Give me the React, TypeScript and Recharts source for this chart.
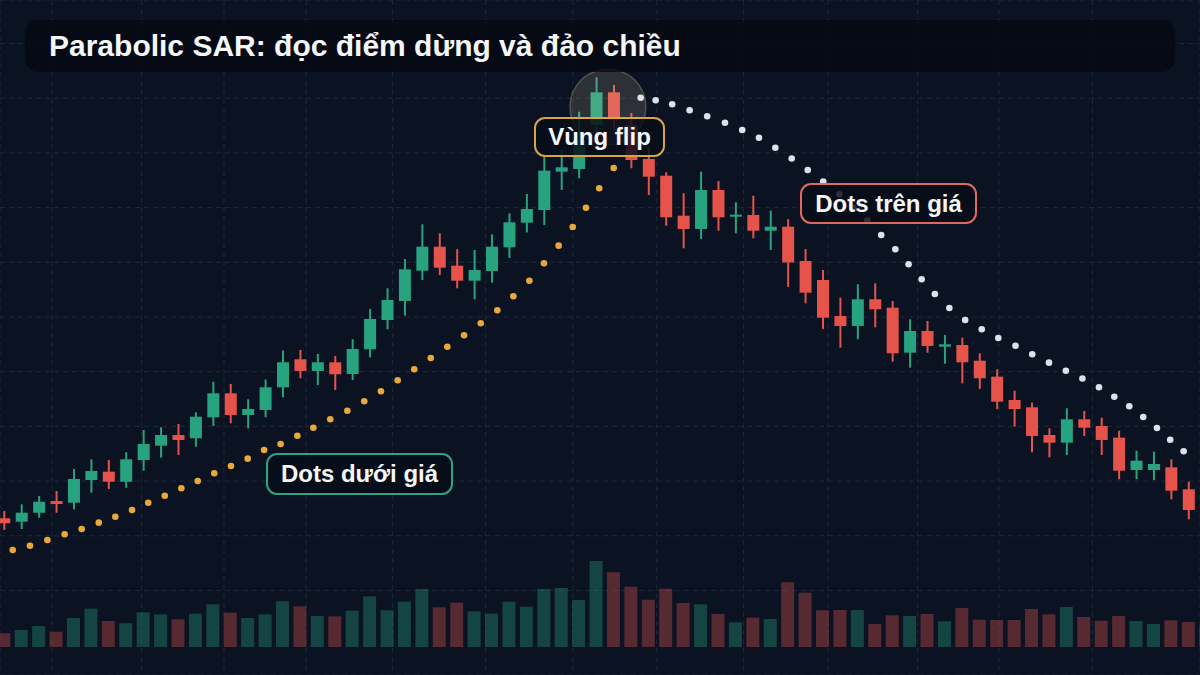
import {
  ComposedChart,
  Bar,
  Scatter,
  XAxis,
  YAxis,
  CartesianGrid,
  ReferenceDot,
  Cell,
} from "recharts";

// candles (price units)
const opens = [
  33.2, 32.58, 34.22, 36.36, 36.05, 40.2, 41.72, 39.89, 43.86, 46.47,
  48.43, 47.83, 51.67, 56.05, 52.09, 53.0, 57.15, 62.27, 60.13, 61.72,
  59.58, 64.1, 69.45, 72.93, 78.47, 82.85, 79.38, 76.64, 78.41, 82.74,
  87.24, 89.56, 96.57, 97.06, 105.1, 111.08, 105.1, 98.89, 95.83, 88.52,
  86.09, 93.22, 88.34, 88.65, 85.78, 86.51, 80.24, 76.77, 70.18, 68.36,
  73.24, 71.7, 63.48, 67.44, 64.57, 64.88, 62.01, 59.09, 54.83, 53.49,
  48.43, 47.02, 51.3, 50.07, 47.94, 42.03, 42.03, 42.52, 38.5, 34.9,
];
const highs = [
  34.53, 35.76, 37.28, 38.19, 42.21, 43.99, 43.86, 45.27, 49.34, 49.84,
  50.44, 52.58, 58.17, 57.75, 54.96, 58.58, 63.88, 63.97, 63.24, 62.87,
  65.93, 71.46, 75.25, 80.61, 86.95, 85.3, 82.38, 82.25, 85.12, 88.96,
  92.49, 99.25, 100.53, 107.53, 113.82, 112.42, 107.3, 101.03, 96.46, 92.62,
  96.57, 94.86, 90.97, 92.18, 89.44, 87.88, 82.43, 78.59, 73.53, 75.98,
  76.16, 72.93, 69.58, 69.27, 66.71, 66.22, 63.37, 60.44, 56.53, 54.33,
  49.65, 53.31, 52.82, 51.59, 49.21, 45.56, 45.38, 43.99, 39.89, 36.0,
];
const lows = [
  31.06, 31.24, 33.31, 34.22, 34.85, 37.88, 38.56, 38.79, 41.9, 44.28,
  44.77, 46.29, 50.07, 50.57, 49.65, 51.67, 55.32, 58.8, 57.57, 56.66,
  58.48, 62.63, 67.75, 70.24, 76.77, 77.68, 75.25, 73.24, 76.27, 80.79,
  85.45, 86.82, 93.22, 95.36, 103.27, 104.19, 97.19, 92.31, 86.69, 82.56,
  84.26, 85.78, 85.3, 84.39, 82.25, 75.49, 72.51, 67.81, 64.39, 65.93,
  68.12, 61.83, 60.73, 63.48, 61.46, 57.88, 56.84, 53.13, 49.95, 45.27,
  44.35, 44.77, 48.25, 44.77, 40.33, 40.33, 40.2, 36.67, 33.02, 31.43,
];
const closes = [
  32.29, 34.22, 36.23, 35.81, 40.38, 41.85, 39.89, 43.99, 46.78, 48.43,
  47.52, 51.77, 56.05, 52.09, 53.18, 57.15, 61.72, 60.13, 61.72, 59.53,
  64.15, 69.64, 73.11, 78.72, 82.85, 79.01, 76.64, 78.59, 82.85, 87.31,
  89.75, 96.75, 97.37, 102.36, 111.08, 106.02, 98.7, 95.65, 88.23, 86.09,
  93.22, 88.23, 88.7, 85.78, 86.51, 79.97, 74.44, 69.87, 68.36, 73.24,
  71.41, 63.37, 67.44, 64.7, 65.01, 61.72, 58.8, 54.52, 53.18, 48.25,
  47.02, 51.3, 49.76, 47.52, 41.9, 43.73, 43.13, 38.25, 34.72, 32.89,
];
const volumes = [
  137, 170, 210, 153, 290, 383, 260, 237, 347, 327,
  277, 333, 427, 343, 290, 327, 457, 407, 310, 307,
  363, 507, 367, 453, 580, 397, 443, 357, 333, 453,
  403, 580, 590, 470, 860, 747, 603, 473, 583, 440,
  427, 330, 247, 293, 280, 647, 543, 367, 370, 370,
  230, 317, 310, 330, 257, 390, 273, 270, 270, 380,
  327, 400, 300, 263, 310, 260, 230, 267, 250, 217,
];

// SAR below price (uptrend)
const sarBullT = [
  0.5, 1.49, 2.49, 3.48, 4.46, 5.44, 6.39, 7.35, 8.28, 9.23,
  10.18, 11.12, 12.07, 13.03, 13.99, 14.93, 15.88, 16.84, 17.76, 18.73,
  19.71, 20.68, 21.64, 22.6, 23.55, 24.5, 25.45, 26.41, 27.37, 28.32,
  29.24, 30.16, 31.0, 31.84, 32.65, 33.41, 34.17, 35.0,
];
const sarBullP = [
  27.4, 28.19, 29.23, 30.27, 31.24, 32.4, 33.49, 34.72, 36.05, 37.33,
  38.68, 40.02, 41.43, 42.76, 44.1, 45.69, 46.78, 48.3, 49.76, 51.3,
  52.87, 54.59, 56.42, 58.43, 60.44, 62.51, 64.57, 66.66, 68.85, 71.23,
  73.79, 76.64, 79.82, 83.04, 86.46, 89.98, 93.53, 97.24,
];
// SAR above price (downtrend)
const sarBearT = [
  36.55, 37.41, 38.36, 39.36, 40.37, 41.39, 42.38, 43.34, 44.28, 45.22,
  46.14, 47.03, 47.95, 48.75, 49.56, 50.36, 51.17, 51.93, 52.68, 53.44,
  54.27, 55.18, 56.13, 57.08, 58.07, 59.03, 59.99, 60.96, 61.91, 62.86,
  63.74, 64.6, 65.4, 66.19, 66.95, 67.72,
];
const sarBearP = [
  110.09, 109.62, 108.89, 107.79, 106.69, 105.52, 104.19, 102.78, 100.95, 98.98,
  96.88, 94.74, 92.43, 90.02, 87.61, 84.99, 82.38, 79.64, 76.89, 74.21,
  71.65, 69.45, 67.75, 66.16, 64.74, 63.2, 61.65, 60.18, 58.76, 57.15,
  55.43, 53.68, 51.72, 49.71, 47.57, 45.45,
];

const gridTimes = [2.75, 7.9, 12.63, 17.34, 22.31, 27.64, 32.65, 37.47, 42.45, 47.3, 52.44, 57.12, 62.49];
const gridPrices = [20, 30, 40, 50, 60, 70, 80, 90, 100, 110, 120];

const flipZone = { t: 34.67, p: 108.4 };

const GREEN = "#27a37f";
const RED = "#e5534b";
const BG = "#0b1322";
const FONT = "'Liberation Sans', Arial, sans-serif";
const T_DOMAIN = [-0.23, 68.66];

const candles = opens.map((o, i) => ({
  t: i,
  o,
  h: highs[i],
  l: lows[i],
  c: closes[i],
  vol: volumes[i],
}));
const bullDots = sarBullT.map((t, i) => ({ t, p: sarBullP[i] }));
const bearDots = sarBearT.map((t, i) => ({ t, p: sarBearP[i] }));

function Candle(props: any) {
  const { x, y, width, height, payload } = props;
  const o = Number(payload?.o);
  const c = Number(payload?.c);
  const h = Number(payload?.h);
  const l = Number(payload?.l);
  const color = c >= o ? GREEN : RED;
  const w = width > 0 ? width : 12;
  const left = width > 0 ? x : x - 6;
  // pixel span of the wick, whichever way round the bar comes
  const yHi = Math.min(y, y + height);
  const yLo = Math.max(y, y + height);
  const span = h - l || 1;
  const py = (v: number) => yHi + ((h - v) / span) * (yLo - yHi);
  const top = py(Math.max(o, c));
  const bot = py(Math.min(o, c));
  const cx = left + w / 2;
  return (
    <g>
      <line x1={cx} x2={cx} y1={yHi} y2={yLo} stroke={color} strokeWidth={2} />
      <rect x={left} y={top} width={w} height={Math.max(bot - top, 2)} fill={color} />
    </g>
  );
}

const dot = (fill: string) => (props: any) =>
  <circle cx={props.cx} cy={props.cy} r={3.3} fill={fill} />;

function Tag({ text, left, top, width, height, border }: any) {
  return (
    <div
      style={{
        position: "absolute",
        left,
        top,
        width,
        height,
        boxSizing: "border-box",
        border: `2px solid ${border}`,
        borderRadius: 11,
        background: "rgba(8, 13, 24, 0.84)",
        color: "#f4f6f8",
        fontFamily: FONT,
        fontWeight: 700,
        fontSize: 24,
        display: "flex",
        alignItems: "center",
        justifyContent: "center",
        whiteSpace: "nowrap",
      }}
    >
      {text}
    </div>
  );
}

export default function App() {
  return (
    <div
      style={{
        position: "fixed",
        left: 0,
        top: 0,
        width: 1200,
        height: 675,
        background: BG,
        overflow: "hidden",
      }}
    >
      <ComposedChart
        width={1200}
        height={675}
        data={candles}
        margin={{ top: 0, right: 0, bottom: 0, left: 0 }}
      >
        <XAxis
          xAxisId="x"
          dataKey="t"
          type="number"
          domain={T_DOMAIN}
          allowDataOverflow
          ticks={gridTimes}
          hide
        />
        <XAxis xAxisId="xv" dataKey="t" type="number" domain={T_DOMAIN} allowDataOverflow hide />
        <XAxis xAxisId="xs" dataKey="t" type="number" domain={T_DOMAIN} allowDataOverflow hide />
        <YAxis
          yAxisId="price"
          dataKey="p"
          type="number"
          domain={[4.552, 127.952]}
          allowDataOverflow
          ticks={gridPrices}
          hide
        />
        <YAxis yAxisId="vol" type="number" domain={[-280, 6470]} allowDataOverflow hide />
        <CartesianGrid
          xAxisId="x"
          yAxisId="price"
          stroke="#1c2839"
          strokeDasharray="5 4"
          strokeWidth={1}
        />
        <ReferenceDot
          xAxisId="xs"
          yAxisId="price"
          x={flipZone.t}
          y={flipZone.p}
          r={38}
          fill="rgba(225, 205, 165, 0.16)"
          stroke="rgba(230, 200, 140, 0.28)"
          strokeWidth={1.5}
        />
        <Bar
          xAxisId="xv"
          yAxisId="vol"
          dataKey="vol"
          barSize={13}
          isAnimationActive={false}
        >
          {candles.map((d, i) => (
            <Cell key={i} fill={d.c >= d.o ? GREEN : RED} fillOpacity={0.35} />
          ))}
        </Bar>
        <Bar
          xAxisId="x"
          yAxisId="price"
          dataKey={(d: any) => [d.l, d.h]}
          barSize={12}
          shape={(p: any) => <Candle {...p} />}
          isAnimationActive={false}
        />
        <Scatter
          xAxisId="xs"
          yAxisId="price"
          data={bullDots}
          dataKey="p"
          shape={dot("#e8a93a")}
          isAnimationActive={false}
        />
        <Scatter
          xAxisId="xs"
          yAxisId="price"
          data={bearDots}
          dataKey="p"
          shape={dot("#dde2e9")}
          isAnimationActive={false}
        />
      </ComposedChart>

      <div
        style={{
          position: "absolute",
          left: 25,
          top: 20,
          width: 1150,
          height: 52,
          boxSizing: "border-box",
          borderRadius: 14,
          background: "rgba(5, 9, 18, 0.82)",
          color: "#f4f6f8",
          fontFamily: FONT,
          fontWeight: 700,
          fontSize: 30,
          lineHeight: "52px",
          paddingLeft: 24,
        }}
      >
        Parabolic SAR: đọc điểm dừng và đảo chiều
      </div>

      <Tag text="Vùng flip" left={534} top={117} width={131} height={40} border="#d6a646" />
      <Tag text="Dots trên giá" left={800} top={183} width={177} height={41} border="#e0685e" />
      <Tag text="Dots dưới giá" left={266} top={453} width={187} height={42} border="#2fa383" />
    </div>
  );
}
